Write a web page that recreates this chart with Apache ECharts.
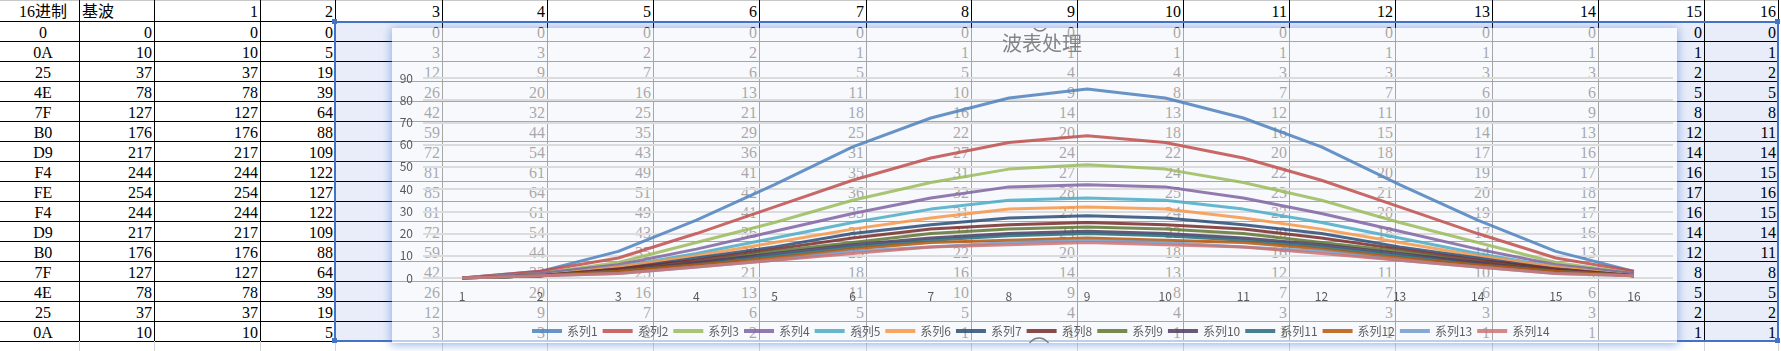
<!DOCTYPE html>
<html>
<head>
<meta charset="utf-8">
<script src="https://cdn.jsdelivr.net/npm/echarts@6/dist/echarts.min.js"></script>
<style>
  body { margin: 0; width: 1781px; height: 351px; overflow: hidden; background: #fff; position: relative;
         font-family: "Liberation Serif", "Noto Sans CJK SC", serif; }
  #sheet { position: absolute; left: 0; top: 0; width: 1781px; height: 351px; }
  .ln { position: absolute; }
  .cell { position: absolute; height: 20px; line-height: 20px; font-size: 16px; color: #000;
          white-space: nowrap; box-sizing: border-box; }
  #chart { position: absolute; left: 392px; top: 28px; width: 1285px; height: 315px;
           background: rgba(255, 255, 255, 0.65);
           box-shadow: 0 1px 9px 1px rgba(70, 120, 215, 0.55); }
</style>
</head>
<body>
<div id="sheet"></div>
<div id="chart"></div>
<script>
// 表格数据
const colHeads = ['16进制', '基波', '1', '2', '3', '4', '5', '6', '7', '8', '9', '10', '11', '12', '13', '14', '15', '16'];
const hexCodes = ['0', '0A', '25', '4E', '7F', 'B0', 'D9', 'F4', 'FE', 'F4', 'D9', 'B0', '7F', '4E', '25', '0A'];
const baseWave = [0, 10, 37, 78, 127, 176, 217, 244, 254, 244, 217, 176, 127, 78, 37, 10];
const h1 = [0, 10, 37, 78, 127, 176, 217, 244, 254, 244, 217, 176, 127, 78, 37, 10];
const h2 = [0, 5, 19, 39, 64, 88, 109, 122, 127, 122, 109, 88, 64, 39, 19, 5];
const h3 = [0, 3, 12, 26, 42, 59, 72, 81, 85, 81, 72, 59, 42, 26, 12, 3];
const h4 = [0, 3, 9, 20, 32, 44, 54, 61, 64, 61, 54, 44, 32, 20, 9, 3];
const h5 = [0, 2, 7, 16, 25, 35, 43, 49, 51, 49, 43, 35, 25, 16, 7, 2];
const h6 = [0, 2, 6, 13, 21, 29, 36, 41, 42, 41, 36, 29, 21, 13, 6, 2];
const h7 = [0, 1, 5, 11, 18, 25, 31, 35, 36, 35, 31, 25, 18, 11, 5, 1];
const h8 = [0, 1, 5, 10, 16, 22, 27, 31, 32, 31, 27, 22, 16, 10, 5, 1];
const h9 = [0, 1, 4, 9, 14, 20, 24, 27, 28, 27, 24, 20, 14, 9, 4, 1];
const h10 = [0, 1, 4, 8, 13, 18, 22, 24, 25, 24, 22, 18, 13, 8, 4, 1];
const h11 = [0, 1, 3, 7, 12, 16, 20, 22, 23, 22, 20, 16, 12, 7, 3, 1];
const h12 = [0, 1, 3, 7, 11, 15, 18, 20, 21, 20, 18, 15, 11, 7, 3, 1];
const h13 = [0, 1, 3, 6, 10, 14, 17, 19, 20, 19, 17, 14, 10, 6, 3, 1];
const h14 = [0, 1, 3, 6, 9, 13, 16, 17, 18, 17, 16, 13, 9, 6, 3, 1];
const h15 = [0, 1, 2, 5, 8, 12, 14, 16, 17, 16, 14, 12, 8, 5, 2, 1];
const h16 = [0, 1, 2, 5, 8, 11, 14, 15, 16, 15, 14, 11, 8, 5, 2, 1];
const harmonics = [h1, h2, h3, h4, h5, h6, h7, h8, h9, h10, h11, h12, h13, h14, h15, h16];

// 图表数据：系列1..14 对应第3..16列
const chartTitle = '波表处理';
const xCategories = ['1', '2', '3', '4', '5', '6', '7', '8', '9', '10', '11', '12', '13', '14', '15', '16'];
const seriesNames = ['系列1', '系列2', '系列3', '系列4', '系列5', '系列6', '系列7',
  '系列8', '系列9', '系列10', '系列11', '系列12', '系列13', '系列14'];
const seriesData = [h3, h4, h5, h6, h7, h8, h9, h10, h11, h12, h13, h14, h15, h16];
const seriesColors = ['#4f81bd', '#c0504d', '#9bbb59', '#8064a2', '#4bacc6', '#f79646', '#2c4d75',
  '#772c2a', '#5f7530', '#4d3b62', '#276a7c', '#b65708', '#729aca', '#cd7371'];

// 表格布局
const colEdges = [0, 79, 154, 260, 335, 442, 547, 653, 759, 866, 971, 1077, 1183, 1289, 1395, 1492, 1598, 1704, 1778];
const headH = 21;
const rowH = 20;
const sheet = document.getElementById('sheet');

function box(x, y, w, h, color) {
  const d = document.createElement('div');
  d.className = 'ln';
  d.style.cssText = 'left:' + x + 'px;top:' + y + 'px;width:' + w + 'px;height:' + h + 'px;background:' + color;
  sheet.appendChild(d);
}

function cell(text, c, r, align) {
  const d = document.createElement('div');
  d.className = 'cell';
  const top = r === 0 ? 0 : headH + (r - 1) * rowH;
  const x0 = colEdges[c], x1 = colEdges[c + 1];
  let css = 'left:' + x0 + 'px;top:' + (top + 2) + 'px;width:' + (x1 - x0) + 'px;text-align:' + align + ';';
  if (align === 'right') css += 'padding-right:2px;';
  if (align === 'left') css += 'padding-left:3px;';
  if (align === 'center') css += 'padding-left:7px;';
  d.style.cssText = css;
  d.textContent = text;
  sheet.appendChild(d);
}

const nRows = hexCodes.length;
const bottomY = headH + nRows * rowH;

// 选区底色
box(336, headH + 2, 1778 - 336, bottomY - headH - 2, '#e8edf9');

// 格线
box(0, 0, 1778, 1, '#c8c8c8');
for (let r = 0; r <= nRows; r++) {
  box(0, headH + r * rowH, 1778, 1, '#000');
}
for (let c = 1; c < colEdges.length; c++) {
  box(colEdges[c], 0, 1, bottomY, '#000');
  box(colEdges[c], bottomY, 1, 351 - bottomY, '#d4d4d4');
}

// 文字
colHeads.forEach((t, c) => {
  cell(t, c, 0, c === 0 ? 'center' : (c === 1 ? 'left' : 'right'));
});
for (let r = 0; r < nRows; r++) {
  cell(hexCodes[r], 0, r + 1, 'center');
  cell(String(baseWave[r]), 1, r + 1, 'right');
  harmonics.forEach((col, k) => cell(String(col[r]), k + 2, r + 1, 'right'));
}

// 选区蓝框
const blue = '#4472c4';
box(334, headH, 1778 - 334 + 1, 2, blue);
box(334, bottomY - 1, 1778 - 334 + 1, 2, blue);
box(334, headH, 2, bottomY - headH, blue);
box(1777, headH, 2, bottomY - headH, blue);
[[332, headH - 2], [1775, headH - 2], [332, bottomY - 3], [1775, bottomY - 3]].forEach(p => {
  box(p[0], p[1], 5, 5, blue);
});

// 图表
const chart = echarts.init(document.getElementById('chart'), null, { renderer: 'canvas' });

const option = {
  animation: false,
  backgroundColor: 'transparent',
  textStyle: { fontFamily: '"Noto Sans CJK SC", sans-serif' },
  title: {
    text: chartTitle,
    left: 645,
    textAlign: 'center',
    top: 0,
    textStyle: { fontSize: 20, fontWeight: 'normal', color: '#858585', fontFamily: '"Noto Sans CJK SC", sans-serif' }
  },
  legend: {
    data: seriesNames,
    left: 135,
    top: 292,
    icon: 'rect',
    itemWidth: 30,
    itemHeight: 4,
    itemGap: 5,
    textStyle: { fontSize: 12, color: '#5f5f5f' },
    selectedMode: false
  },
  grid: { left: 31, right: 4, top: 50, bottom: 65, containLabel: false },
  xAxis: {
    type: 'category',
    data: xCategories,
    boundaryGap: true,
    axisLine: { show: false },
    axisTick: { show: false },
    splitLine: { show: false },
    axisLabel: { color: '#595959', fontSize: 12, margin: 12 }
  },
  yAxis: {
    type: 'value',
    min: 0,
    max: 90,
    interval: 10,
    axisLine: { show: false },
    axisTick: { show: false },
    axisLabel: { color: '#595959', fontSize: 12, margin: 10 },
    splitLine: { lineStyle: { color: '#dcdcdc', width: 2 } }
  },
  series: seriesNames.map((name, i) => ({
    name: name,
    type: 'line',
    data: seriesData[i],
    symbol: 'none',
    smooth: false,
    lineStyle: { width: 3, color: seriesColors[i], opacity: 0.85 },
    itemStyle: { color: seriesColors[i], opacity: 0.85 },
    emphasis: { disabled: true }
  })),
  graphic: [
    { type: 'circle', shape: { cx: 648, cy: -4, r: 7 }, style: { fill: 'none', stroke: '#808080', lineWidth: 1.5 }, silent: true },
    { type: 'circle', shape: { cx: 647, cy: 321, r: 11 }, style: { fill: 'none', stroke: '#808080', lineWidth: 1.5 }, silent: true }
  ]
};

chart.setOption(option);
</script>
</body>
</html>
